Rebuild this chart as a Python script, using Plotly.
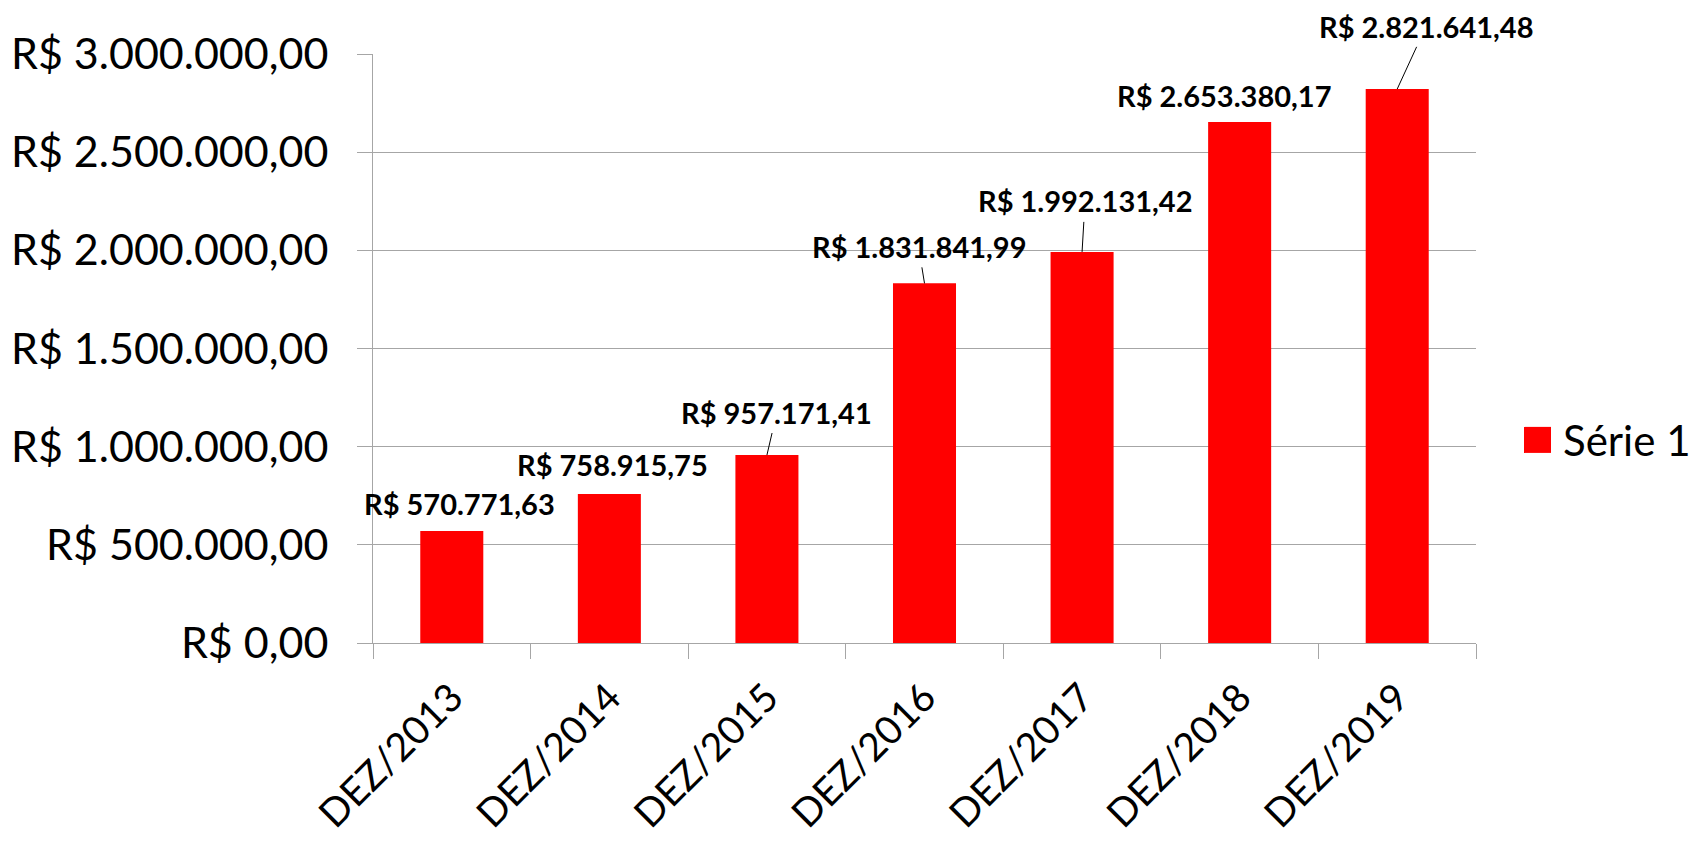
import plotly.graph_objects as go

categories = ["DEZ/2013", "DEZ/2014", "DEZ/2015", "DEZ/2016", "DEZ/2017", "DEZ/2018", "DEZ/2019"]
values = [570771.63, 758915.75, 957171.41, 1831841.99, 1992131.42, 2653380.17, 2821641.48]
series_name = "Série 1"

# label offsets (pixels) of each data label relative to its bar top, and whether a leader line is drawn
label_dx = [8, 3, 10, -6, 3, -16, 29]
label_dy = [-27, -30, -43, -37, -51, -27, -63]
leader = [False, False, True, True, True, False, True]

FONT = "Lato"
RED = "#FF0000"
GRID = "#a6a6a6"


def brl(v):
    s = f"{v:,.2f}".replace(",", "X").replace(".", ",").replace("X", ".")
    return "R$ " + s


fig = go.Figure()
fig.add_trace(go.Bar(
    x=categories, y=values, name=series_name,
    marker=dict(color=RED, line=dict(width=0)),
    showlegend=False, hoverinfo="x+y",
))

annotations = []
for c, v, dx, dy, ld in zip(categories, values, label_dx, label_dy, leader):
    common = dict(x=c, y=v, xref="x", yref="y", text=brl(v),
                  font=dict(family=FONT, size=29, color="black", weight="bold"))
    if ld:
        annotations.append(dict(**common, showarrow=True, ax=dx, ay=dy,
                                axref="pixel", ayref="pixel",
                                arrowhead=0, arrowwidth=1, arrowcolor="black",
                                standoff=0, startstandoff=2))
    else:
        annotations.append(dict(**common, showarrow=False, xshift=dx, yshift=-dy))

# page offset of the figure (browser body margin)
OFF = 8
# plot area in page pixels
L, R, T, B = 373, 1476, 54.3, 643
PAGE_W, PAGE_H = 1698, 842
W, H = R - L, B - T
def px(x):
    return (x - L) / W
def py(y):
    return (B - y) / H

# legend (drawn as shape + text to match the large square symbol)
annotations.append(dict(x=px(1561), y=py(440), xref="paper", yref="paper",
                        text=series_name, showarrow=False, xanchor="left", yanchor="middle",
                        font=dict(family=FONT, size=42, color="black")))
shapes = [dict(type="rect", xref="paper", yref="paper",
               x0=px(1524), x1=px(1551), y0=py(453), y1=py(427),
               fillcolor=RED, line=dict(width=0))]

fig.update_layout(
    width=PAGE_W - OFF, height=PAGE_H - OFF,
    margin=dict(l=L - OFF, r=PAGE_W - R, t=T - OFF, b=PAGE_H - B, autoexpand=False),
    paper_bgcolor="white", plot_bgcolor="white",
    separators=",.",
    bargap=0.6,
    font=dict(family=FONT, color="black"),
    annotations=annotations,
    shapes=shapes,
    showlegend=False,
)
fig.update_xaxes(
    type="category", range=[-0.5, len(categories) - 0.5], autorange=False,
    showline=True, linecolor=GRID, linewidth=1,
    ticks="outside", tickson="boundaries", ticklen=15, tickcolor=GRID,
    ticklabelstandoff=15,
    tickangle=-45, tickfont=dict(family=FONT, size=39, color="black"),
    showgrid=False,
)
fig.update_yaxes(
    range=[0, 3000000], autorange=False, dtick=500000, tick0=0,
    tickprefix="R$ ", tickformat=",.2f",
    showline=True, linecolor=GRID, linewidth=1,
    ticks="outside", ticklen=15, tickcolor=GRID,
    ticklabelstandoff=20,
    showgrid=True, gridcolor=GRID, gridwidth=1,
    zeroline=False,
    tickfont=dict(family=FONT, size=43, color="black"),
)

fig.write_html("out.html")
